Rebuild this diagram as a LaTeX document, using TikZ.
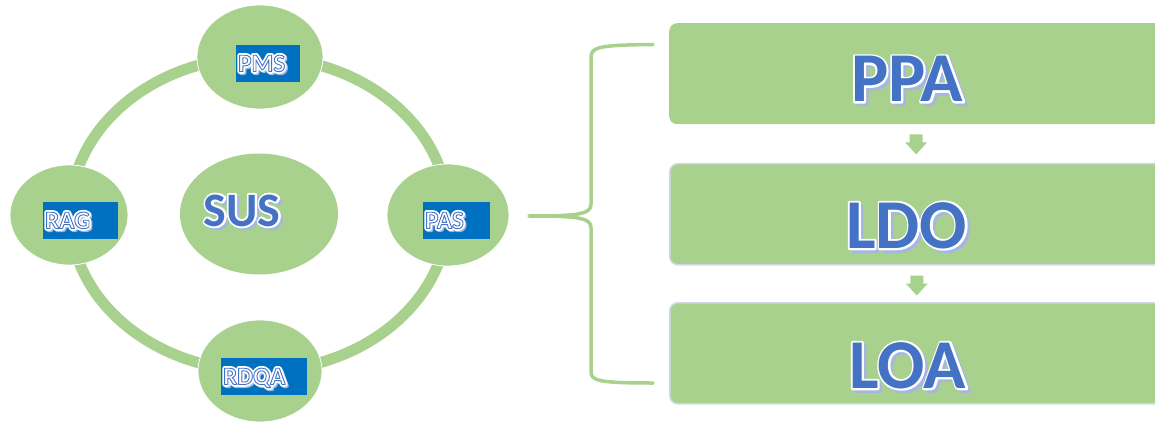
\documentclass[tikz,border=0pt]{standalone}
\usepackage{fontspec}
\setmainfont{Carlito}
\usetikzlibrary{shapes.geometric}
\definecolor{lgreen}{HTML}{A9D18E}
\definecolor{tblue}{HTML}{4472C4}
\definecolor{bbox}{HTML}{0070C0}
\definecolor{shad}{HTML}{A5B7E0}
\definecolor{bord}{HTML}{D0D9E6}
% #1 stroke rgb, #2 width, #3 text
\newcommand{\strk}[3]{\special{pdf:literal direct #2 w #1 RG 2 Tr 1 j}#3\special{pdf:literal direct 0 Tr}}
\newcommand{\bigtxt}[1]{{\color{tblue}#1}}
\newcommand{\bighalo}[1]{{\color{white}\strk{1 1 1}{4}{#1}}}
\newcommand{\bigshad}[1]{{\color{shad}\strk{0.647 0.718 0.878}{3}{#1}}}
\newcommand{\smalltxt}[1]{{\color{white}\strk{0.267 0.447 0.769}{0.9}{#1}}}
\newcommand{\smallhalo}[1]{{\color{white}\strk{1 1 1}{4.5}{#1}}}
\newcommand{\smallshad}[1]{{\color{shad}\strk{0.647 0.718 0.878}{4}{#1}}}
\begin{document}
\begin{tikzpicture}[x=1pt,y=-1pt,
  ell/.style={ellipse,fill=lgreen,draw=white,line width=0.8pt,inner sep=0pt},
  lbox/.style={rectangle,fill=bbox,inner sep=0pt,minimum height=37pt,anchor=west},
  ltxt/.style={inner sep=0pt,anchor=base west,font=\fontsize{25}{25}\selectfont\bfseries},
  ring/.style={draw=lgreen,line width=11pt},
  bracestyle/.style={draw=lgreen,line width=3.5pt,line cap=round},
  stage/.style={rectangle,rounded corners=8pt,fill=lgreen,minimum width=496pt,minimum height=101pt,anchor=north west,inner sep=0pt},
  bigfont/.style={inner sep=0pt,anchor=base,font=\fontsize{70}{70}\selectfont\bfseries},
  susfont/.style={inner sep=0pt,anchor=base,font=\fontsize{48}{48}\selectfont\bfseries}]
\useasboundingbox (0,0) rectangle (1155,422);
\begin{scope}
\clip (0,0) rectangle (1155,422);
% ring
\draw[ring] (259,214) ellipse [x radius=189, y radius=157];
% ellipses
\node[ell,minimum width=126pt,minimum height=104pt] (pms) at (260,57) {};
\node[ell,minimum width=118pt,minimum height=100pt] (rag) at (69,215) {};
\node[ell,minimum width=122pt,minimum height=102pt] (pas) at (448,215) {};
\node[ell,minimum width=124pt,minimum height=102pt] (rdqa) at (260,371) {};
\node[ellipse,fill=lgreen,minimum width=158pt,minimum height=121pt,inner sep=0pt] (sus) at (259,214) {};
% SUS text
\path (sus.center) ++(-17,12) coordinate (susb);
\node[susfont] at ([shift={(2.5,2.5)}]susb) {\bigshad{SUS}};
\node[susfont] at (susb) {\bighalo{SUS}};
\node[susfont] at (susb) {\bigtxt{SUS}};
% label boxes
\node[lbox,minimum width=64pt] (bpms) at (236,63.5) {};
\node[lbox,minimum width=75pt] (brag) at (43,220.5) {};
\node[lbox,minimum width=67pt] (bpas) at (423,220.5) {};
\node[lbox,minimum width=86pt] (brdqa) at (221,376.5) {};
\foreach \b/\t in {bpms/PMS,brag/RAG,bpas/PAS,brdqa/RDQA}{
  \node[ltxt] at ([shift={(3.5,9.5)}]\b.west) {\smallshad{\t}};
  \node[ltxt] at ([shift={(2,8)}]\b.west) {\smallhalo{\t}};
  \node[ltxt] at ([shift={(2,8)}]\b.west) {\smalltxt{\t}};
}
% brace
\coordinate (btip) at (529,216);
\coordinate (btop) at (653,44.5);
\coordinate (bbot) at (653,383);
\draw[bracestyle] (btip) .. controls (580,216) and (591,214) .. (591,204)
  -- (591,57) .. controls (591,47) and (600,45) .. (btop);
\draw[bracestyle] (btip) .. controls (580,216) and (591,218) .. (591,228)
  -- (591,372) .. controls (591,381) and (600,383) .. (bbot);
% stages
\node[stage] (ppa) at (669,23) {};
\node[stage,draw=bord,line width=1.5pt] (ldo) at (669,163) {};
\node[stage,draw=bord,line width=1.5pt] (loa) at (669,302) {};
\foreach \s/\t/\x/\dy in {ppa/PPA/907/28,ldo/LDO/906/34,loa/LOA/907/35}{
  \path (\s.center) ++(\x-669-248,\dy) coordinate (\s c);
  \node[bigfont] at ([shift={(3,3)}]\s c) {\bigshad{\t}};
  \node[bigfont] at (\s c) {\bighalo{\t}};
  \node[bigfont] at (\s c) {\bigtxt{\t}};
}
% small arrows
\foreach \a in {ppa,ldo}{
  \path (\a.south) ++(916-669-248,10) coordinate (\a top);
  \fill[lgreen] ([shift={(-6.5,0)}]\a top) -- ++(0,8) -- ++(-4.5,0) -- ([shift={(0,20)}]\a top) -- ++(11,-12) -- ++(-4.5,0) -- ++(0,-8) -- cycle;
}
\end{scope}
\end{tikzpicture}
\end{document}
